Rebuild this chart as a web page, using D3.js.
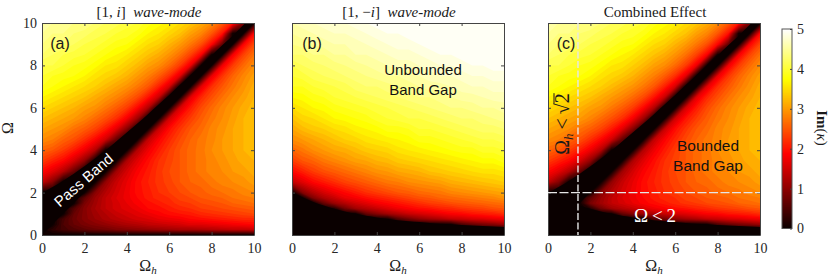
<!DOCTYPE html>
<html>
<head>
<meta charset="utf-8">
<script src="https://cdn.jsdelivr.net/npm/d3@7"></script>
<style>
  html, body { margin: 0; padding: 0; background: #fff; }
  text { fill: #1a1a1a; }
  .serif { font-family: "Liberation Serif", serif; }
  .sans { font-family: "Liberation Sans", sans-serif; }
  .tick text { font-family: "Liberation Serif", serif; font-size: 14px; fill: #262626; }
  .tick line, .domain { stroke: #444; }
</style>
</head>
<body>
<svg id="chart" width="831" height="277"></svg>
<script>
// Grid the values were read on
var omegaH = [0, 0.5, 1, 1.5, 2, 2.5, 3, 3.5, 4, 4.5, 5, 5.5, 6, 6.5, 7, 7.5, 8, 8.5, 9, 9.5, 10];
var omega = [0, 0.25, 0.5, 0.75, 1, 1.25, 1.5, 1.75, 2, 2.5, 3, 3.5, 4, 4.5, 5, 5.5, 6, 6.5, 7, 7.5, 8, 8.5, 9, 9.5, 10];
var axisTicks = [0, 2, 4, 6, 8, 10];
var colorTicks = [0, 1, 2, 3, 4, 5];

// Im(kappa), one inner array per omegaH column, bottom to top
var modePlus = [
  [0,0,0,0,0,0,0,0,0,1.4,1.9,2.3,2.6,2.9,3.1,3.3,3.5,3.7,3.9,4,4.1,4.3,4.4,4.5,4.6],
  [0,.25,0,0,0,0,0,0,0,.95,1.65,2.1,2.5,2.8,3,3.2,3.4,3.6,3.8,3.9,4.1,4.2,4.3,4.4,4.5],
  [0,.45,.5,.45,0,0,0,0,0,0,1.3,1.9,2.3,2.6,2.9,3.1,3.3,3.5,3.7,3.85,4,4.1,4.3,4.4,4.5],
  [0,.55,.7,.75,.7,.55,0,0,0,0,.7,1.55,2.05,2.45,2.7,3,3.2,3.4,3.6,3.8,3.9,4.05,4.2,4.3,4.4],
  [0,.65,.85,.95,.95,.95,.85,.65,0,0,0,1.05,1.75,2.2,2.55,2.85,3.05,3.3,3.5,3.7,3.85,4,4.1,4.25,4.4],
  [0,.75,.95,1.1,1.15,1.2,1.15,1.1,.95,0,0,0,1.3,1.9,2.35,2.65,2.95,3.15,3.4,3.55,3.75,3.9,4.05,4.15,4.3],
  [0,.8,1.05,1.25,1.3,1.4,1.4,1.4,1.3,1.05,0,0,0,1.5,2.05,2.45,2.75,3,3.25,3.45,3.6,3.8,3.95,4.1,4.2],
  [0,.9,1.15,1.35,1.45,1.55,1.55,1.6,1.55,1.45,1.15,0,0,.7,1.65,2.2,2.55,2.85,3.1,3.35,3.55,3.7,3.85,4,4.15],
  [0,.95,1.25,1.45,1.55,1.65,1.7,1.75,1.75,1.7,1.55,1.25,0,0,.95,1.8,2.3,2.65,2.95,3.2,3.4,3.6,3.8,3.95,4.05],
  [0,1,1.3,1.55,1.65,1.75,1.85,1.9,1.95,1.95,1.85,1.65,1.3,0,0,1.15,1.9,2.4,2.75,3,3.25,3.45,3.65,3.85,4],
  [0,1.05,1.4,1.6,1.75,1.9,1.95,2.05,2.05,2.1,2.05,1.95,1.75,1.4,0,0,1.3,2,2.5,2.8,3.05,3.3,3.5,3.7,3.85],
  [0,1.1,1.45,1.7,1.85,1.95,2.05,2.15,2.2,2.25,2.25,2.2,2.05,1.85,1.45,0,0,1.45,2.1,2.55,2.9,3.15,3.4,3.6,3.75],
  [0,1.15,1.5,1.75,1.95,2.05,2.15,2.2,2.3,2.35,2.4,2.35,2.3,2.15,1.95,1.5,0,0,1.55,2.2,2.65,2.95,3.2,3.45,3.65],
  [0,1.2,1.55,1.8,2,2.15,2.25,2.35,2.4,2.5,2.5,2.5,2.5,2.4,2.25,2,1.55,0,0,1.65,2.3,2.7,3,3.3,3.5],
  [0,1.2,1.65,1.9,2.05,2.2,2.3,2.4,2.5,2.6,2.65,2.65,2.65,2.6,2.5,2.3,2.05,1.65,0,0,1.75,2.35,2.75,3.05,3.35],
  [0,1.25,1.65,1.95,2.15,2.3,2.4,2.5,2.55,2.65,2.75,2.75,2.75,2.75,2.65,2.55,2.4,2.15,1.65,0,0,1.85,2.45,2.85,3.15],
  [0,1.3,1.7,2,2.2,2.35,2.45,2.55,2.65,2.75,2.85,2.85,2.9,2.85,2.85,2.75,2.65,2.45,2.2,1.7,0,0,1.9,2.5,2.9],
  [0,1.35,1.75,2.05,2.25,2.4,2.5,2.6,2.7,2.85,2.9,2.95,3,3,2.95,2.9,2.85,2.7,2.5,2.25,1.75,0,.7,2,2.55],
  [0,1.4,1.8,2.1,2.3,2.45,2.6,2.7,2.75,2.9,3,3.05,3.1,3.1,3.1,3.05,3,2.9,2.75,2.6,2.3,1.8,0,0,2.05],
  [0,1.4,1.85,2.15,2.35,2.5,2.65,2.75,2.85,2.95,3.05,3.15,3.2,3.2,3.2,3.2,3.15,3.05,2.95,2.85,2.65,2.35,1.85,0,.95],
  [0,1.45,1.9,2.15,2.4,2.55,2.7,2.8,2.9,3.05,3.15,3.2,3.25,3.3,3.3,3.3,3.25,3.2,3.15,3.05,2.9,2.7,2.4,1.9,0]
];
var modeMinus = [
  [0,0,0,0,0,0,0,0,0,1.4,1.9,2.3,2.6,2.9,3.1,3.3,3.5,3.7,3.9,4,4.1,4.3,4.4,4.5,4.6],
  [0,0,0,0,0,0,0,0,.95,1.65,2.1,2.5,2.75,3,3.25,3.45,3.6,3.75,3.9,4.05,4.2,4.3,4.45,4.55,4.65],
  [0,0,0,0,0,0,0,.9,1.3,1.9,2.3,2.6,2.9,3.1,3.35,3.5,3.7,3.85,4,4.15,4.25,4.4,4.5,4.6,4.7],
  [0,0,0,0,0,0,.7,1.25,1.55,2.05,2.45,2.75,3,3.2,3.4,3.6,3.75,3.9,4.05,4.2,4.3,4.4,4.55,4.65,4.75],
  [0,0,0,0,0,.2,1.1,1.45,1.75,2.2,2.55,2.85,3.1,3.3,3.5,3.7,3.85,4,4.1,4.25,4.35,4.5,4.6,4.7,4.8],
  [0,0,0,0,0,.8,1.3,1.7,1.9,2.35,2.65,2.95,3.15,3.4,3.55,3.75,3.9,4.05,4.15,4.3,4.4,4.5,4.6,4.7,4.8],
  [0,0,0,0,0,1.15,1.5,1.8,2.05,2.45,2.75,3.05,3.25,3.45,3.65,3.8,3.95,4.1,4.25,4.35,4.45,4.6,4.65,4.75,4.85],
  [0,0,0,0,.7,1.3,1.65,1.95,2.2,2.55,2.85,3.1,3.35,3.55,3.7,3.85,4,4.15,4.3,4.4,4.5,4.6,4.7,4.8,4.9],
  [0,0,0,0,.95,1.45,1.8,2.05,2.3,2.65,2.95,3.2,3.4,3.6,3.75,3.95,4.05,4.2,4.3,4.45,4.55,4.65,4.75,4.85,4.95],
  [0,0,0,0,1.15,1.6,1.9,2.15,2.4,2.75,3,3.25,3.45,3.65,3.85,4,4.1,4.25,4.35,4.5,4.6,4.7,4.8,4.9,4.95],
  [0,0,0,.55,1.3,1.75,2,2.25,2.5,2.8,3.1,3.35,3.55,3.7,3.85,4.05,4.15,4.3,4.4,4.5,4.65,4.75,4.85,4.9,5],
  [0,0,0,.8,1.45,1.85,2.1,2.35,2.55,2.9,3.15,3.4,3.6,3.75,3.9,4.1,4.2,4.35,4.45,4.55,4.65,4.75,4.85,4.95,5],
  [0,0,0,1,1.55,1.95,2.2,2.45,2.65,2.95,3.2,3.45,3.65,3.85,4,4.1,4.25,4.4,4.5,4.6,4.7,4.8,4.9,5,5],
  [0,0,0,1.15,1.65,2,2.3,2.5,2.7,3,3.3,3.5,3.7,3.85,4,4.15,4.3,4.4,4.55,4.65,4.75,4.85,4.95,5,5],
  [0,0,0,1.25,1.75,2.1,2.35,2.6,2.75,3.05,3.35,3.55,3.75,3.9,4.05,4.2,4.35,4.45,4.55,4.7,4.8,4.9,4.95,5,5],
  [0,0,0,1.4,1.85,2.15,2.45,2.65,2.85,3.15,3.4,3.6,3.8,3.95,4.1,4.25,4.4,4.5,4.6,4.7,4.8,4.9,5,5,5],
  [0,0,.5,1.45,1.9,2.25,2.5,2.7,2.9,3.2,3.45,3.65,3.85,4,4.15,4.3,4.4,4.55,4.65,4.75,4.85,4.95,5,5,5],
  [0,0,.7,1.55,2,2.3,2.55,2.75,2.95,3.25,3.5,3.7,3.85,4.05,4.2,4.3,4.45,4.55,4.7,4.8,4.9,4.95,5,5,5],
  [0,0,.85,1.6,2.05,2.35,2.6,2.8,3,3.3,3.55,3.75,3.95,4.1,4.25,4.35,4.5,4.6,4.7,4.8,4.9,5,5,5,5],
  [0,0,.95,1.7,2.1,2.45,2.65,2.85,3.05,3.35,3.55,3.75,3.95,4.1,4.25,4.4,4.5,4.65,4.75,4.85,4.95,5,5,5,5],
  [0,0,1.1,1.75,2.2,2.5,2.7,2.95,3.1,3.4,3.6,3.85,4,4.15,4.3,4.45,4.55,4.65,4.75,4.85,4.95,5,5,5,5]
];
var combined = [
  [0,0,0,0,0,0,0,0,0,1.4,1.9,2.3,2.6,2.9,3.1,3.3,3.5,3.7,3.9,4,4.1,4.3,4.4,4.5,4.6],
  [0,0,0,0,0,0,0,0,0,.95,1.65,2.1,2.5,2.8,3,3.2,3.4,3.6,3.8,3.9,4.1,4.2,4.3,4.4,4.5],
  [0,0,0,0,0,0,0,0,0,0,1.3,1.9,2.3,2.6,2.9,3.1,3.3,3.5,3.7,3.85,4,4.1,4.3,4.4,4.5],
  [0,0,0,0,0,0,0,0,0,0,.7,1.55,2.05,2.45,2.7,3,3.2,3.4,3.6,3.8,3.9,4.05,4.2,4.3,4.4],
  [0,0,0,0,0,.2,.85,.65,0,0,0,1.05,1.75,2.2,2.55,2.85,3.05,3.3,3.5,3.7,3.85,4,4.1,4.25,4.4],
  [0,0,0,0,0,.8,1.15,1.1,.95,0,0,0,1.3,1.9,2.35,2.65,2.95,3.15,3.4,3.55,3.75,3.9,4.05,4.15,4.3],
  [0,0,0,0,0,1.15,1.4,1.4,1.3,1.05,0,0,0,1.5,2.05,2.45,2.75,3,3.25,3.45,3.6,3.8,3.95,4.1,4.2],
  [0,0,0,0,.7,1.3,1.55,1.6,1.55,1.45,1.15,0,0,.7,1.65,2.2,2.55,2.85,3.1,3.35,3.55,3.7,3.85,4,4.15],
  [0,0,0,0,.95,1.45,1.7,1.75,1.75,1.7,1.55,1.25,0,0,.95,1.8,2.3,2.65,2.95,3.2,3.4,3.6,3.8,3.95,4.05],
  [0,0,0,0,1.15,1.6,1.85,1.9,1.95,1.95,1.85,1.65,1.3,0,0,1.15,1.9,2.4,2.75,3,3.25,3.45,3.65,3.85,4],
  [0,0,0,.55,1.3,1.75,1.95,2.05,2.05,2.1,2.05,1.95,1.75,1.4,0,0,1.3,2,2.5,2.8,3.05,3.3,3.5,3.7,3.85],
  [0,0,0,.8,1.45,1.85,2.05,2.15,2.2,2.25,2.25,2.2,2.05,1.85,1.45,0,0,1.45,2.1,2.55,2.9,3.15,3.4,3.6,3.75],
  [0,0,0,1,1.55,1.95,2.15,2.2,2.3,2.35,2.4,2.35,2.3,2.15,1.95,1.5,0,0,1.55,2.2,2.65,2.95,3.2,3.45,3.65],
  [0,0,0,1.15,1.65,2,2.25,2.35,2.4,2.5,2.5,2.5,2.5,2.4,2.25,2,1.55,0,0,1.65,2.3,2.7,3,3.3,3.5],
  [0,0,0,1.25,1.75,2.1,2.3,2.4,2.5,2.6,2.65,2.65,2.65,2.6,2.5,2.3,2.05,1.65,0,0,1.75,2.35,2.75,3.05,3.35],
  [0,0,0,1.4,1.85,2.15,2.4,2.5,2.55,2.65,2.75,2.75,2.75,2.75,2.65,2.55,2.4,2.15,1.65,0,0,1.85,2.45,2.85,3.15],
  [0,0,.5,1.45,1.9,2.25,2.45,2.55,2.65,2.75,2.85,2.85,2.9,2.85,2.85,2.75,2.65,2.45,2.2,1.7,0,0,1.9,2.5,2.9],
  [0,0,.7,1.55,2,2.3,2.5,2.6,2.7,2.85,2.9,2.95,3,3,2.95,2.9,2.85,2.7,2.5,2.25,1.75,0,.7,2,2.55],
  [0,0,.85,1.6,2.05,2.35,2.6,2.7,2.75,2.9,3,3.05,3.1,3.1,3.1,3.05,3,2.9,2.75,2.6,2.3,1.8,0,0,2.05],
  [0,0,.95,1.7,2.1,2.45,2.65,2.75,2.85,2.95,3.05,3.15,3.2,3.2,3.2,3.2,3.15,3.05,2.95,2.85,2.65,2.35,1.85,0,.95],
  [0,0,1.1,1.75,2.2,2.5,2.7,2.8,2.9,3.05,3.15,3.2,3.25,3.3,3.3,3.3,3.25,3.2,3.15,3.05,2.9,2.7,2.4,1.9,0]
];

// Edges of the black zones at each omegaH column
var passBandLow = [0, 0.5, 1, 1.5, 2, 2.5, 3, 3.5, 4, 4.5, 5, 5.5, 6, 6.5, 7, 7.5, 8, 8.5, 9, 9.5, 10];
var passBandHigh = [2, 2.27, 2.56, 2.89, 3.24, 3.61, 4, 4.41, 4.83, 5.26, 5.7, 6.15, 6.6, 7.07, 7.53, 8, 8.47, 8.95, 9.4, 9.9, 10.39];
var floorBandHigh = [2, 1.77, 1.56, 1.39, 1.24, 1.11, 1, 0.91, 0.83, 0.76, 0.7, 0.65, 0.61, 0.57, 0.53, 0.5, 0.47, 0.45, 0.42, 0.4, 0.38];

var critOmegaH = 1.414;
var critOmega = 2;

var svg = d3.select("#chart");
var top_ = 23, bottom_ = 235, side = 212;
var black = "#0a0000";

// hot colormap
var color = d3.scaleLinear()
  .domain([0, 1.875, 3.75, 5])
  .range([black, "#ff0000", "#ffff00", "#ffffff"])
  .clamp(true);

var levels = d3.range(0, 5, 0.1);
var xIndex = d3.scaleLinear().domain(d3.range(omegaH.length)).range(omegaH).clamp(true);
var yIndex = d3.scaleLinear().domain(d3.range(omega.length)).range(omega).clamp(true);

function drawPanel(left, grid, id, showBand, showFloor, showYLabels) {
  var x = d3.scaleLinear().domain([0, 10]).range([0, side]);
  var y = d3.scaleLinear().domain([0, 10]).range([bottom_ - top_, 0]);
  var g = svg.append("g").attr("transform", "translate(" + left + "," + top_ + ")");

  svg.append("clipPath").attr("id", id)
    .append("rect").attr("width", side).attr("height", bottom_ - top_);

  var plot = g.append("g").attr("clip-path", "url(#" + id + ")");

  // flatten to the row order d3.contours wants
  var flat = [];
  omega.forEach(function(o, r) {
    omegaH.forEach(function(h, c) { flat.push(grid[c][r]); });
  });

  var contours = d3.contours()
    .size([omegaH.length, omega.length])
    .thresholds(levels)(flat);

  // contour points sit half a cell off the sample index
  var path = d3.geoPath(d3.geoTransform({
    point: function(px, py) {
      this.stream.point(x(xIndex(px - 0.5)), y(yIndex(py - 0.5)));
    }
  }));

  plot.selectAll("path.level")
    .data(contours)
    .enter().append("path")
    .attr("class", "level")
    .attr("d", path)
    .attr("fill", function(d) { return color(d.value + 0.05); });

  // crisp black zones on top of the contour fill
  if (showBand) {
    plot.append("path")
      .attr("fill", black)
      .attr("d", d3.area()
        .curve(d3.curveMonotoneX)
        .x(function(d, i) { return x(omegaH[i]); })
        .y0(function(d, i) { return y(passBandLow[i]); })
        .y1(function(d) { return y(d); })(passBandHigh));
  }
  if (showFloor) {
    plot.append("path")
      .attr("fill", black)
      .attr("d", d3.area()
        .curve(d3.curveMonotoneX)
        .x(function(d, i) { return x(omegaH[i]); })
        .y0(y(0))
        .y1(function(d) { return y(d); })(floorBandHigh));
  }

  // box with inward ticks on all four sides
  g.append("g").attr("transform", "translate(0," + y(0) + ")")
    .call(d3.axisBottom(x).tickValues(axisTicks).tickSizeInner(-3).tickSizeOuter(0).tickPadding(8));
  g.append("g")
    .call(d3.axisTop(x).tickValues(axisTicks).tickSizeInner(-3).tickSizeOuter(0).tickFormat(""));
  g.append("g")
    .call(d3.axisLeft(y).tickValues(axisTicks).tickSizeInner(-3).tickSizeOuter(0).tickPadding(5)
      .tickFormat(showYLabels ? null : ""));
  g.append("g").attr("transform", "translate(" + side + ",0)")
    .call(d3.axisRight(y).tickValues(axisTicks).tickSizeInner(-3).tickSizeOuter(0).tickFormat(""));

  // x label
  var xl = g.append("text").attr("class", "serif")
    .attr("x", side / 2).attr("y", y(0) + 36).attr("text-anchor", "middle").attr("font-size", 16);
  xl.append("tspan").text("Ω");
  xl.append("tspan").attr("dy", 3).attr("font-size", 11).attr("font-style", "italic").text("h");

  return { g: g, x: x, y: y };
}

var a = drawPanel(42, modePlus, "clipA", true, false, true);
var b = drawPanel(292, modeMinus, "clipB", false, true, false);
var c = drawPanel(548, combined, "clipC", true, true, false);

// y label of panel (a)
svg.append("text").attr("class", "serif")
  .attr("transform", "translate(13,128) rotate(-90)")
  .attr("text-anchor", "middle").attr("font-size", 16).text("Ω");

// titles
function title(cx, parts) {
  var t = svg.append("text").attr("class", "serif")
    .attr("x", cx).attr("y", 17).attr("text-anchor", "middle").attr("font-size", 15);
  parts.forEach(function(p) {
    t.append("tspan").attr("font-style", p[1] ? "italic" : null).text(p[0]);
  });
}
title(149, [["[1, ", 0], ["i", 1], ["]\u2002", 0], ["wave-mode", 1]]);
title(399, [["[1, −", 0], ["i", 1], ["]\u2002", 0], ["wave-mode", 1]]);
title(655, [["Combined Effect", 0]]);

// panel tags
[["(a)", 60], ["(b)", 312], ["(c)", 566]].forEach(function(d) {
  svg.append("text").attr("class", "sans")
    .attr("x", d[1]).attr("y", 49).attr("text-anchor", "middle").attr("font-size", 16).text(d[0]);
});

// annotations
function note(px, py, s, size, fill, rot) {
  svg.append("text").attr("class", "sans")
    .attr("transform", "translate(" + px + "," + py + ")" + (rot ? " rotate(" + rot + ")" : ""))
    .attr("text-anchor", "middle").attr("font-size", size)
    .style("fill", fill).text(s);
}
note(87, 184, "Pass Band", 15, "#fff", -41);
note(423, 75, "Unbounded", 15, "#111");
note(423, 95, "Band Gap", 15, "#111");
note(708, 151, "Bounded", 15.5, "#111");
note(708, 171, "Band Gap", 15.5, "#111");

svg.append("text").attr("class", "serif")
  .attr("x", 655).attr("y", 222).attr("text-anchor", "middle")
  .attr("font-size", 19).style("fill", "#fff").text("Ω\u2009<\u20092");

var rotatedGroup = svg.append("g").attr("transform", "translate(569,124) rotate(-90)");
var rotated = rotatedGroup.append("text").attr("class", "serif")
  .attr("text-anchor", "middle").attr("font-size", 20);
rotated.append("tspan").text("Ω");
rotated.append("tspan").attr("dy", 4).attr("font-size", 13).attr("font-style", "italic").text("h");
rotated.append("tspan").attr("dy", -4).text("\u2009<\u2009√2");

// bar over the 2, measured from the laid out glyph
var radicand = rotated.node().getExtentOfChar(rotated.node().getNumberOfChars() - 1);
rotatedGroup.append("line")
  .attr("x1", radicand.x - 0.5).attr("x2", radicand.x + radicand.width)
  .attr("y1", -15).attr("y2", -15)
  .attr("stroke", "#1a1a1a").attr("stroke-width", 1);

// critical lines in panel (c)
c.g.append("line")
  .attr("x1", c.x(critOmegaH)).attr("x2", c.x(critOmegaH))
  .attr("y1", c.y(10)).attr("y2", c.y(0))
  .attr("stroke", "#e6e6e6").attr("stroke-width", 1.4).attr("stroke-dasharray", "7,2.5");
c.g.append("line")
  .attr("x1", c.x(0)).attr("x2", c.x(10))
  .attr("y1", c.y(critOmega)).attr("y2", c.y(critOmega))
  .attr("stroke", "#e6e6e6").attr("stroke-width", 1.4).attr("stroke-dasharray", "9,2.5");

// colorbar
var barY = d3.scaleLinear().domain([0, 5]).range([228.5, 29]);
svg.append("g").selectAll("rect")
  .data(d3.range(0, 5, 0.025))
  .enter().append("rect")
  .attr("x", 782).attr("width", 10)
  .attr("y", function(d) { return barY(d + 0.025); })
  .attr("height", function(d) { return barY(d) - barY(d + 0.025) + 0.5; })
  .attr("fill", function(d) { return color(d + 0.0125); });
svg.append("rect").attr("x", 782).attr("y", 29).attr("width", 10).attr("height", 199.5)
  .attr("fill", "none").attr("stroke", "#555");
svg.append("g").attr("transform", "translate(792,0)")
  .call(d3.axisRight(barY).tickValues(colorTicks).tickFormat(d3.format("d"))
    .tickSizeInner(-2).tickSizeOuter(0).tickPadding(5))
  .select(".domain").remove();

var barLabel = svg.append("text").attr("class", "serif")
  .attr("transform", "translate(817,128) rotate(90)")
  .attr("text-anchor", "middle").attr("font-size", 15);
barLabel.append("tspan").attr("font-weight", "bold").text("Im");
barLabel.append("tspan").text("(");
barLabel.append("tspan").attr("font-style", "italic").text("κ");
barLabel.append("tspan").text(")");
</script>
</body>
</html>
